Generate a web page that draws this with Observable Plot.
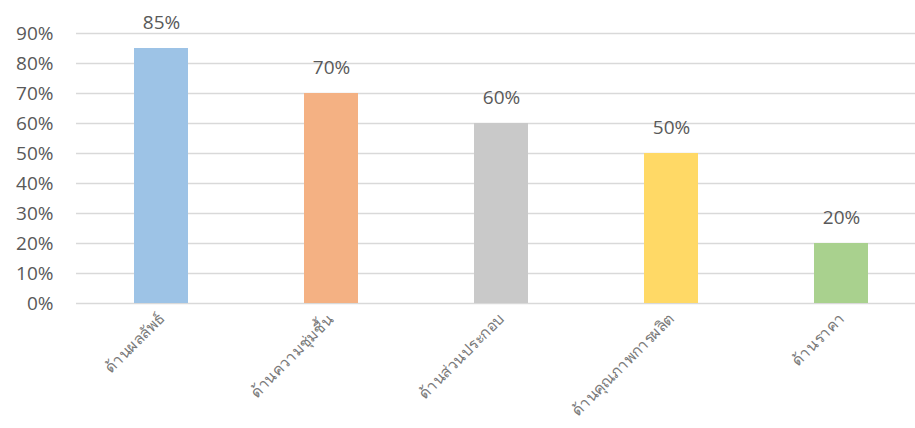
<!DOCTYPE html>
<html>
<head>
<meta charset="utf-8">
<script src="https://cdn.jsdelivr.net/npm/d3@7"></script>
<script src="https://cdn.jsdelivr.net/npm/@observablehq/plot@0.6"></script>
<style>
  html, body { margin: 0; padding: 0; background: #fff; }
  #chart svg { display: block; }
</style>
</head>
<body>
<div id="chart"></div>
<script>
const categories = ["ด้านผลลัพธ์", "ด้านความชุ่มชื้น", "ด้านส่วนประกอบ", "ด้านคุณภาพการผลิต", "ด้านราคา"];
const values = [0.85, 0.70, 0.60, 0.50, 0.20];
const colors = ["#9DC3E6", "#F4B183", "#C9C9C9", "#FFD966", "#A9D18E"];
const yTicks = [0, 0.1, 0.2, 0.3, 0.4, 0.5, 0.6, 0.7, 0.8, 0.9];

const data = categories.map((c, i) => ({category: c, value: values[i], color: colors[i]}));

const chart = Plot.plot({
  width: 915,
  height: 428,
  marginLeft: 76,
  marginRight: 0,
  marginTop: 33,
  marginBottom: 125,
  style: {fontFamily: "'Open Sans', sans-serif", background: "#fff"},
  x: {domain: categories, range: [76, 926], paddingInner: 0.68, paddingOuter: 0.34, label: null},
  y: {domain: [0, 0.9], label: null},
  marks: [
    Plot.ruleY(yTicks, {stroke: "#D9D9D9", strokeWidth: 1.5}),
    Plot.barY(data, {x: "category", y: "value", fill: "color"}),
    Plot.text(data, {x: "category", y: "value", text: d => Math.round(d.value * 100) + "%", dy: -26, fontSize: 19, fill: "#595959"}),
    Plot.axisY({ticks: yTicks, tickFormat: d => Math.round(d * 100) + "%", tickSize: 0, tickPadding: 23, fontSize: 19, fill: "#595959", label: null}),
    Plot.axisX({tickSize: 0, tickRotate: -45, tickPadding: 13, fontSize: 15.5, fill: "#7a7a7a", fontWeight: 300, label: null})
  ]
});
document.getElementById("chart").appendChild(chart);
</script>
</body>
</html>
